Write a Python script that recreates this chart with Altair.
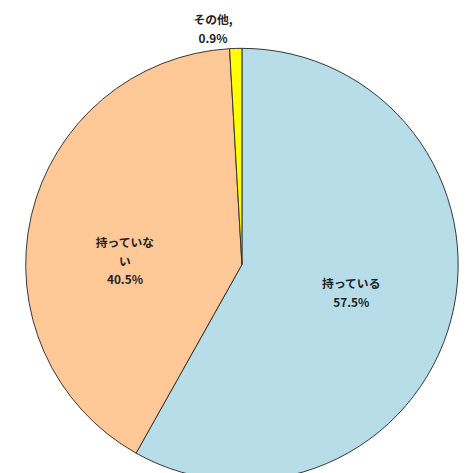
import altair as alt
import pandas as pd

categories = ["持っている", "持っていない", "その他"]
display_labels = ["持っている\n57.5%", "持っていな\nい\n40.5%", "その他,\n0.9%"]
values = [57.5, 40.5, 0.9]
colors = ["#B7DEE8", "#FFC896", "#FFFF00"]

df = pd.DataFrame({
    "cat": categories,
    "label": display_labels,
    "value": values,
    "idx": list(range(len(categories))),
})

cx, cy = 238, 257
R = 220

base = alt.Chart(df).encode(
    theta=alt.Theta("value:Q", stack=True),
    order=alt.Order("idx:O"),
)

pie = base.mark_arc(stroke="#333333", strokeWidth=1).encode(
    color=alt.Color("cat:N", scale=alt.Scale(domain=categories, range=colors), legend=None),
    x=alt.value(cx),
    y=alt.value(cy),
    radius=alt.value(R),
)


def label_layer(cat, r, toff):
    return base.mark_text(
        font="Noto Sans CJK JP", fontSize=12, fontWeight="bold", color="#222222",
        lineHeight=19, align="center", baseline="middle", lineBreak="\n",
        thetaOffset=toff,
    ).encode(
        x=alt.value(cx), y=alt.value(cy), radius=alt.value(r),
        text=alt.condition(alt.datum.cat == cat, alt.Text("label:N"), alt.value("")),
    )


l1 = label_layer("持っている", 113, -0.079)
l2 = label_layer("持っていない", 121, -0.044)
l3 = label_layer("その他", 250, -0.089)

chart = alt.layer(pie, l1, l2, l3).properties(
    width=468, height=465, autosize=alt.AutoSizeParams(type="none"), padding=0
).configure(background="white").configure_view(stroke=None)

chart.save("out.html", embed_options={"renderer": "svg", "actions": False})
